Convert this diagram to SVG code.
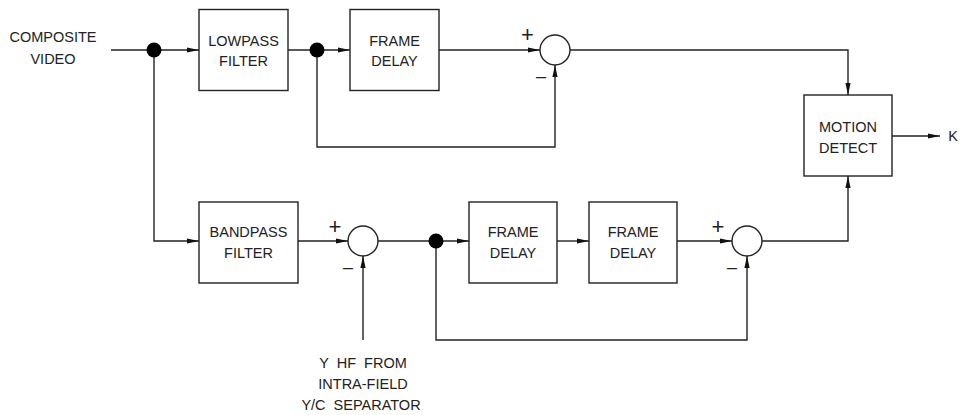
<svg xmlns="http://www.w3.org/2000/svg" width="963" height="415" viewBox="0 0 963 415">
<style>
.box{fill:#fff;stroke:#222;stroke-width:1.4}
.sum{fill:#fff;stroke:#222;stroke-width:1.4}
.ln{fill:none;stroke:#222;stroke-width:1.4}
.dot{fill:#000}
text{font-family:"Liberation Sans",Arial,Helvetica,sans-serif;font-size:14.5px;fill:#222;text-anchor:middle;white-space:pre}
.sg{font-size:22px}
.mn{font-size:18px}
</style>
<defs>
<marker id="ah" markerUnits="userSpaceOnUse" markerWidth="12" markerHeight="6" refX="12" refY="3" orient="auto">
<path d="M0,0.4 L12,3 L0,5.6 z" fill="#111"/>
</marker>
</defs>
<g id="connectors">
<path class="ln" d="M111,50 H199" marker-end="url(#ah)"/>
<path class="ln" d="M154,50 V241 H199" marker-end="url(#ah)"/>
<path class="ln" d="M288,50 H350" marker-end="url(#ah)"/>
<path class="ln" d="M439,50 H540" marker-end="url(#ah)"/>
<path class="ln" d="M317,50 V147 H555 V65" marker-end="url(#ah)"/>
<path class="ln" d="M570,50 H848 V95" marker-end="url(#ah)"/>
<path class="ln" d="M892,136 H940" marker-end="url(#ah)"/>
<path class="ln" d="M298,241 H348" marker-end="url(#ah)"/>
<path class="ln" d="M363,340 V256" marker-end="url(#ah)"/>
<path class="ln" d="M378,241 H469" marker-end="url(#ah)"/>
<path class="ln" d="M557,241 H589" marker-end="url(#ah)"/>
<path class="ln" d="M677,241 H732" marker-end="url(#ah)"/>
<path class="ln" d="M436,241 V340 H747 V256" marker-end="url(#ah)"/>
<path class="ln" d="M762,241 H848 V176" marker-end="url(#ah)"/>
<circle class="dot" cx="154" cy="50" r="7.5"/>
<circle class="dot" cx="317" cy="50" r="7.5"/>
<circle class="dot" cx="436" cy="241" r="7.5"/>
</g>
<g id="input-label">
<text x="53" y="42">COMPOSITE</text>
<text x="53" y="64">VIDEO</text>
</g>
<g id="lowpass">
<rect class="box" x="199" y="9.5" width="89" height="81"/>
<text x="243.5" y="46">LOWPASS</text>
<text x="243.5" y="66">FILTER</text>
</g>
<g id="frame-delay-top">
<rect class="box" x="350" y="9.5" width="89" height="81"/>
<text x="394.5" y="46">FRAME</text>
<text x="394.5" y="66">DELAY</text>
</g>
<g id="sum-top">
<circle class="sum" cx="555" cy="50" r="15"/>
<text class="sg" x="527.5" y="42">+</text>
<text class="mn" x="541" y="82">–</text>
</g>
<g id="motion-detect">
<rect class="box" x="804" y="95" width="88" height="81"/>
<text x="848" y="132">MOTION</text>
<text x="848" y="153">DETECT</text>
</g>
<g id="k-label">
<text x="953" y="141">K</text>
</g>
<g id="bandpass">
<rect class="box" x="199" y="202" width="99" height="81"/>
<text x="248.5" y="237">BANDPASS</text>
<text x="248.5" y="258">FILTER</text>
</g>
<g id="sum-bottom1">
<circle class="sum" cx="363" cy="241" r="15"/>
<text class="sg" x="335" y="234">+</text>
<text class="mn" x="348" y="273">–</text>
</g>
<g id="frame-delay-1">
<rect class="box" x="469" y="202" width="88" height="81"/>
<text x="513" y="237">FRAME</text>
<text x="513" y="258">DELAY</text>
</g>
<g id="frame-delay-2">
<rect class="box" x="589" y="202" width="88" height="81"/>
<text x="633" y="237">FRAME</text>
<text x="633" y="258">DELAY</text>
</g>
<g id="sum-bottom2">
<circle class="sum" cx="747" cy="241" r="15"/>
<text class="sg" x="718" y="234">+</text>
<text class="mn" x="732" y="273">–</text>
</g>
<g id="yhf-label">
<text x="363" y="368">Y  HF  FROM</text>
<text x="363" y="389">INTRA-FIELD</text>
<text x="361" y="410">Y/C  SEPARATOR</text>
</g>
</svg>
